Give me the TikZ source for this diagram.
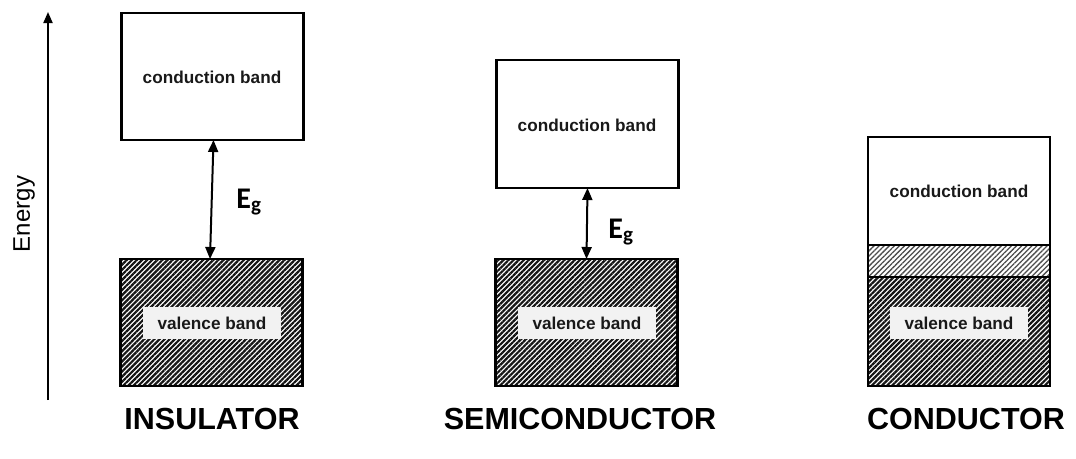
\documentclass[tikz,border=0pt]{standalone}
\usepackage{fontspec}
\setmainfont{Liberation Sans}
\newfontfamily\calib{Carlito}
\usetikzlibrary{patterns.meta,arrows.meta}
\tikzset{
  band/.style={draw=black, line width=2.6pt, inner sep=0pt, outer sep=0pt, minimum width=182pt},
  darkhatch/.style={pattern={Lines[angle=45,distance=3.6pt,line width=2.2pt]}, pattern color=black!92},
  lighthatch/.style={pattern={Lines[angle=45,distance=3.6pt,line width=1.3pt]}, pattern color=black!70},
  bandtext/.style={font=\fontsize{17.2}{20}\selectfont\bfseries, text=black!90},
  vlabel/.style={bandtext, fill=black!5, inner sep=0pt, minimum width=138pt, minimum height=32pt},
  title/.style={font=\fontsize{30.5}{34}\selectfont\bfseries},
  gap/.style={line width=2pt, {Triangle[length=12pt,width=10pt]}-{Triangle[length=12pt,width=10pt]}},
  egtext/.style={font=\calib\fontsize{30}{33}\selectfont\bfseries},
}
\begin{document}
\begin{tikzpicture}[x=1pt,y=-1pt]
\useasboundingbox (0,0) rectangle (1076,458);
% energy axis
\coordinate (ebot) at (48,400);
\coordinate (etop) at (48,12);
\draw[line width=2pt, -{Triangle[length=11pt,width=9pt]}] (ebot) -- (etop);
\node[rotate=90, font=\fontsize{24}{28}\selectfont] (energy) at (24,214) {Energy};
% insulator
\node[band, minimum height=127pt] (icb) at (212.5,76.5) {};
\node[bandtext] (icbt) at (212,77) {conduction band};
\node[band, darkhatch, minimum height=127pt] (ivb) at (211.5,322.5) {};
\node[vlabel] (ivbt) at (212,323) {valence band};
\draw[gap] ([xshift=1pt]icb.south) -- ([xshift=-1.5pt]ivb.north);
\node[egtext] (ieg) at (249,202) {E\textsubscript{g}};
\node[title] (ititle) at (212,419) {INSULATOR};
% semiconductor
\node[band, minimum height=128pt] (scb) at (587.5,124) {};
\node[bandtext] (scbt) at (587,125) {conduction band};
\node[band, darkhatch, minimum height=127pt] (svb) at (586.5,322.5) {};
\node[vlabel] (svbt) at (587,323) {valence band};
\draw[gap] (scb.south) -- (svb.north);
\node[egtext] (seg) at (621,232) {E\textsubscript{g}};
\node[title] (stitle) at (580,419) {SEMICONDUCTOR};
% conductor
\node[band, minimum height=108pt] (ccb) at (959,191) {};
\node[bandtext] (ccbt) at (959,191) {conduction band};
\node[band, lighthatch, minimum height=32pt] (cmid) at (959,261) {};
\node[band, darkhatch, minimum height=109pt] (cvb) at (959,331.5) {};
\node[vlabel] (cvbt) at (959,323) {valence band};
\node[title] (ctitle) at (966,419) {CONDUCTOR};
\end{tikzpicture}
\end{document}
